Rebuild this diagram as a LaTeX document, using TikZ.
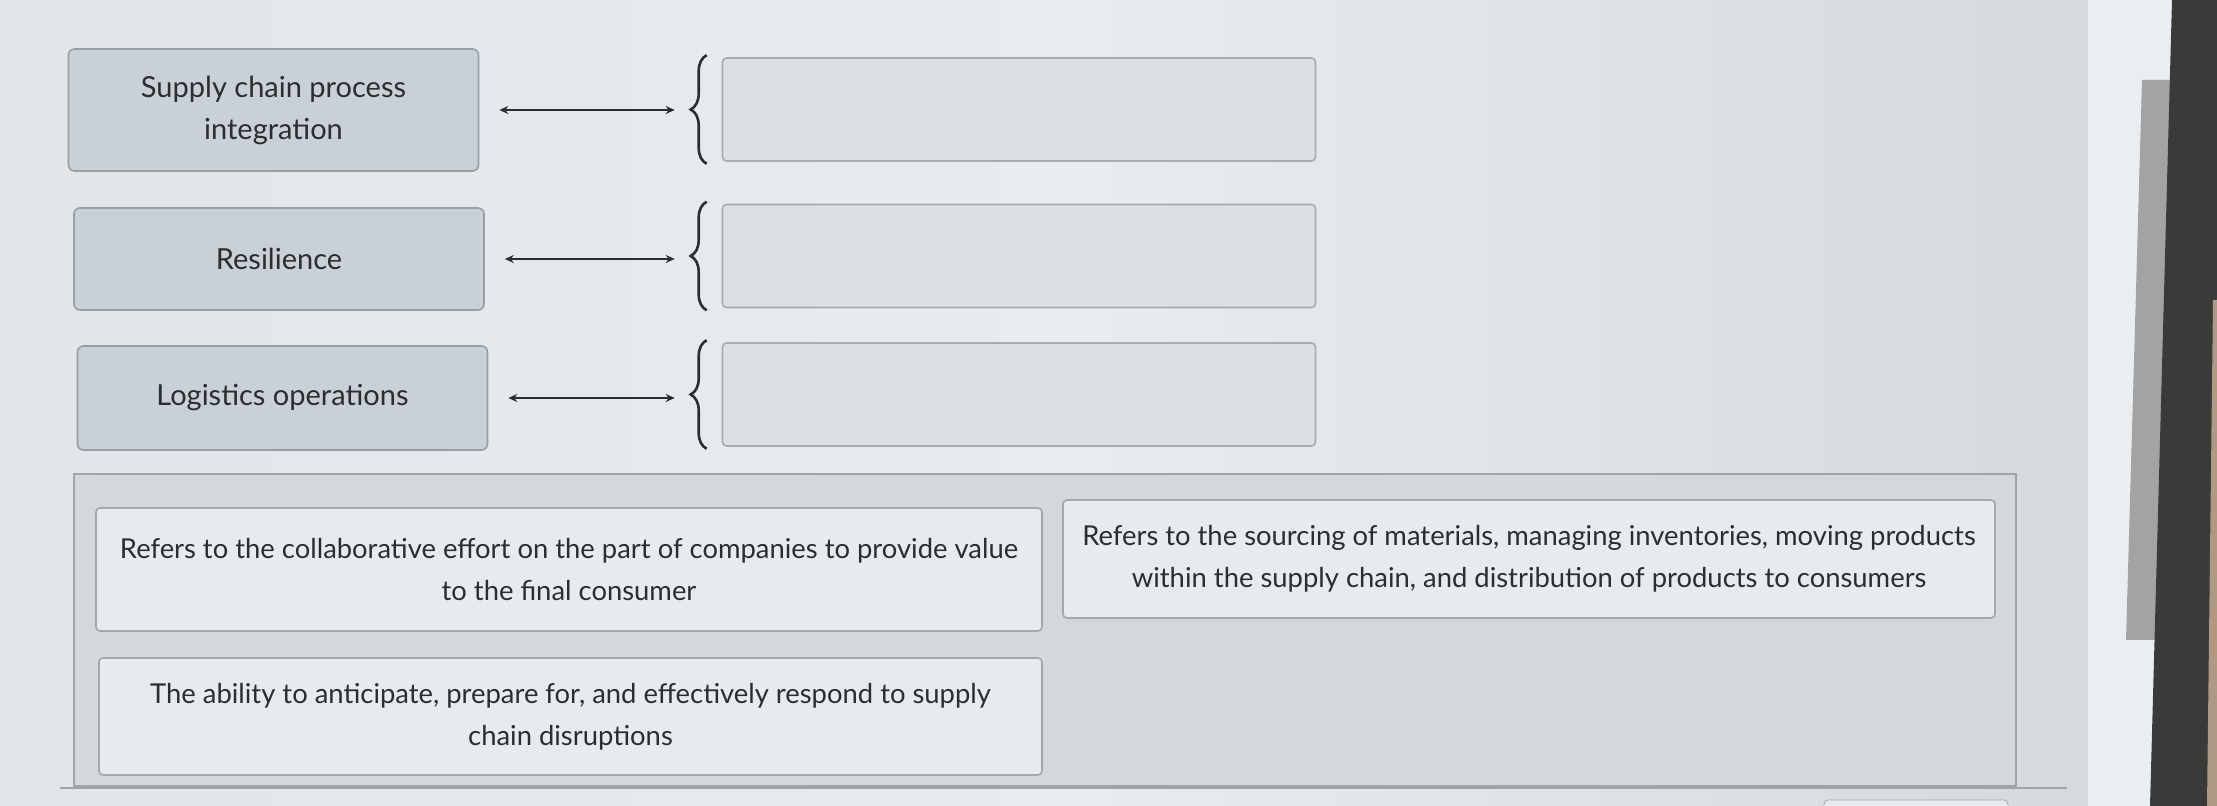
\documentclass[tikz,border=0pt]{standalone}
\usepackage{fontspec}
\setmainfont{Lato}
\usetikzlibrary{arrows.meta, decorations.pathreplacing}
\definecolor{ink}{HTML}{2A2D31}
\definecolor{bgleft}{HTML}{E2E6E9}
\definecolor{bgmid}{HTML}{E9ECEF}
\definecolor{bgright}{HTML}{D5D8DB}
\definecolor{termfill}{HTML}{C9D1D6}
\definecolor{termline}{HTML}{97A0A6}
\definecolor{slotfill}{HTML}{DCE0E3}
\definecolor{slotline}{HTML}{A6ACB0}
\definecolor{trayfill}{HTML}{D4D8DB}
\definecolor{trayline}{HTML}{9EA4A8}
\definecolor{cardfill}{HTML}{E8EBED}
\definecolor{cardline}{HTML}{A2A8AC}
\definecolor{bezel}{HTML}{3A3B39}
\tikzstyle{term} = [draw=termline, fill=termfill, line width=0.8pt, rounded corners=3pt, minimum width=205pt, align=center, text=ink, font=\fontsize{14.5}{21}\selectfont]
\tikzstyle{slot} = [draw=slotline, fill=slotfill, line width=0.8pt, rounded corners=2pt, minimum width=296.5pt, minimum height=51.5pt]
\tikzstyle{card} = [draw=cardline, fill=cardfill, line width=0.8pt, rounded corners=2pt, align=center, text=ink, font=\fontsize{13.7}{21}\selectfont]
\tikzstyle{tray} = [draw=trayline, fill=trayfill, line width=0.8pt]
\tikzstyle{link} = [{Stealth[length=4.5pt, width=4pt]}-{Stealth[length=4.5pt, width=4pt]}, ink, line width=0.9pt, shorten <=10pt, shorten >=23.5pt]
\tikzstyle{brace} = [decorate, decoration={brace, amplitude=8pt}, ink, line width=1.3pt]

\begin{document}
\begin{tikzpicture}[x=0.5pt, y=-0.5pt]
    \clip (0, 0) rectangle (2217, 806);
    %\draw[help lines, step=100] (0, 0) grid (2217, 806);
    \shade[left color=bgleft, right color=bgright, middle color=bgmid] (0, 0) rectangle (2172, 806);
    \fill[bgmid!90!white] (2088, 0) rectangle (2172, 806);
    \fill[black!36] (2142, 80) -- (2172, 80) -- (2160, 640) -- (2126, 640) -- cycle;
    \fill[bezel] (2172, 0) -- (2217, 0) -- (2217, 806) -- (2150, 806) -- cycle;
    \fill[brown!45!gray!80] (2213, 300) -- (2217, 300) -- (2217, 806) -- (2207, 806) -- cycle;

    \foreach \i/\x/\y/\h/\s/\txt in {1/273.5/110/61pt/109.5/{Supply chain process\\integration},
                                     2/279/259/51pt/256/Resilience,
                                     3/282.5/398/52pt/394.5/{Logistics operations}} {
        \node[term, minimum height=\h] (term\i) at (\x, \y) {\txt};
        \node[slot] (slot\i) at (1019, \s) {};
        \draw[brace] ([shift={(-7.5pt, -1pt)}]slot\i.south west) -- ([shift={(-7.5pt, 1pt)}]slot\i.north west);
        \draw[link] (term\i.east) -- (term\i.east -| slot\i.west);
    }

    \node[tray, minimum width=971pt, minimum height=156pt] (tray) at (1045, 630) {};
    \draw[trayline, line width=0.8pt] (60, 788) -- (2067, 788);
    \draw[cardline, fill=cardfill, rounded corners=2pt] (1824, 800) rectangle (2008, 840);

    \node[card, minimum width=473pt, minimum height=61.5pt] (def1) at (569, 569.5)
        {Refers to the collaborative effort on the part of companies to provide value\\to the final consumer};
    \node[card, minimum width=466pt, minimum height=59pt] (def2) at (1529, 559)
        {Refers to the sourcing of materials, managing inventories, moving products\\within the supply chain, and distribution of products to consumers};
    \node[card, minimum width=471.5pt, minimum height=58.5pt] (def3) at (570.5, 716.5)
        {The ability to anticipate, prepare for, and effectively respond to supply\\chain disruptions};
\end{tikzpicture}
\end{document}
